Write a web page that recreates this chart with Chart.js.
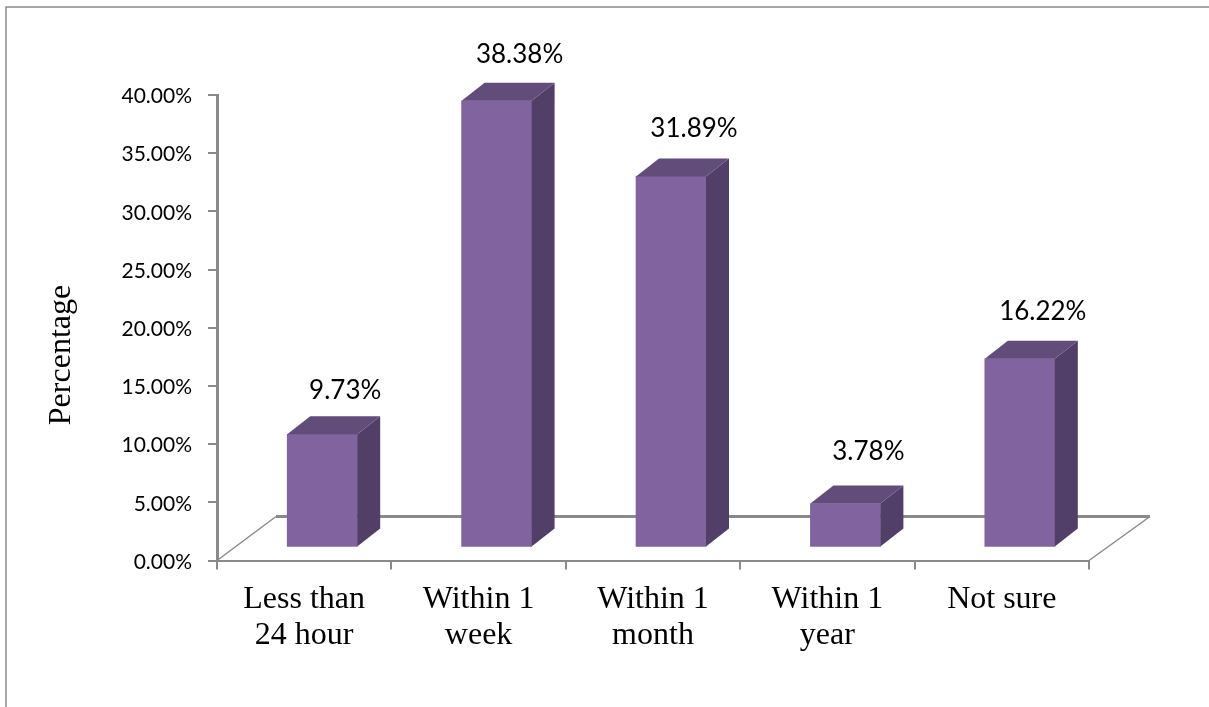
<!DOCTYPE html>
<html>
<head>
<meta charset="utf-8">
<title>Percentage chart</title>
<script src="https://cdn.jsdelivr.net/npm/chart.js@4/dist/chart.umd.min.js"></script>
<style>
html, body { margin: 0; padding: 0; background: #fff; }
canvas { display: block; }
</style>
</head>
<body>
<canvas id="chart" width="1209" height="707"></canvas>
<script>
var categories = [["Less than", "24 hour"], ["Within 1", "week"], ["Within 1", "month"], ["Within 1", "year"], ["Not sure"]];
var percentValues = [9.73, 38.38, 31.89, 3.78, 16.22];
var axisTitle = "Percentage";

var GRAY = '#8a8a8a';
// how far the bars and the floor are pushed back for the fake 3d look
var barShiftX = 18, barShiftY = -13;
var depthX = 23, depthY = -18;
var floorX = 59, floorY = -44;
// small vertical corrections of the value labels
var labelNudge = [3, 1, -1, -5, 0];

var fake3d = {
    id: 'fake3d',
    beforeDraw: function(chart) {
        // frame around the figure, only top and left are visible
        var ctx = chart.ctx;
        ctx.save();
        ctx.strokeStyle = GRAY;
        ctx.lineWidth = 1.5;
        ctx.beginPath();
        ctx.moveTo(6, 707);
        ctx.lineTo(6, 7);
        ctx.lineTo(1209, 7);
        ctx.stroke();
        ctx.restore();
    },
    beforeDatasetsDraw: function(chart) {
        var ctx = chart.ctx, a = chart.chartArea;
        ctx.save();
        ctx.strokeStyle = GRAY;
        ctx.lineWidth = 1.5;
        ctx.beginPath();
        ctx.moveTo(a.left, a.bottom);
        ctx.lineTo(a.left + floorX, a.bottom + floorY);
        ctx.moveTo(a.right, a.bottom);
        ctx.lineTo(a.right + floorX + 2, a.bottom + floorY);
        ctx.stroke();
        ctx.lineWidth = 3;
        ctx.beginPath();
        ctx.moveTo(a.left + floorX, a.bottom + floorY);
        ctx.lineTo(a.right + floorX + 2, a.bottom + floorY);
        ctx.stroke();
        ctx.restore();
    },
    beforeDatasetDraw: function(chart) {
        chart.ctx.save();
        chart.ctx.translate(barShiftX, barShiftY);
    },
    afterDatasetDraw: function(chart, args) {
        var ctx = chart.ctx;
        args.meta.data.forEach(function(bar) {
            var l = bar.x - bar.width / 2, r = bar.x + bar.width / 2;
            ctx.fillStyle = '#523f68';
            ctx.beginPath();
            ctx.moveTo(r, bar.y);
            ctx.lineTo(r + depthX, bar.y + depthY);
            ctx.lineTo(r + depthX, bar.base + depthY);
            ctx.lineTo(r, bar.base);
            ctx.closePath();
            ctx.fill();
            ctx.fillStyle = '#614c7a';
            ctx.beginPath();
            ctx.moveTo(l, bar.y);
            ctx.lineTo(l + depthX, bar.y + depthY);
            ctx.lineTo(r + depthX, bar.y + depthY);
            ctx.lineTo(r, bar.y);
            ctx.closePath();
            ctx.fill();
        });
        ctx.restore();

        // value labels above each bar
        ctx.save();
        ctx.fillStyle = '#000';
        ctx.font = '26px Lato';
        ctx.textAlign = 'center';
        ctx.textBaseline = 'middle';
        args.meta.data.forEach(function(bar, i) {
            ctx.fillText(percentValues[i].toFixed(2) + '%', bar.x + barShiftX + depthX, bar.y + barShiftY + depthY - 29 + labelNudge[i]);
        });
        ctx.restore();
    },
    afterDraw: function(chart) {
        var ctx = chart.ctx;
        ctx.save();
        ctx.fillStyle = '#000';
        ctx.font = '32px "Liberation Serif"';
        ctx.textAlign = 'center';
        ctx.textBaseline = 'middle';
        ctx.translate(62, 355);
        ctx.rotate(-Math.PI / 2);
        ctx.fillText(axisTitle, 0, 0);
        ctx.restore();
    }
};

var ctx = document.getElementById("chart").getContext('2d');
var myChart = new Chart(ctx, {
    type: 'bar',
    data: {
        labels: categories,
        datasets: [{
            label: axisTitle,
            data: percentValues,
            backgroundColor: '#80639f',
            barThickness: 70
        }]
    },
    options: {
        responsive: false,
        animation: false,
        layout: { padding: { top: 95, right: 120, bottom: 0, left: 0 } },
        plugins: {
            legend: { display: false },
            tooltip: { enabled: false }
        },
        scales: {
            x: {
                afterFit: function(scale) { scale.height = 146.5; },
                grid: { drawOnChartArea: false, color: GRAY, tickLength: 9, lineWidth: 2, offset: true },
                border: { color: GRAY, width: 2 },
                ticks: {
                    color: '#000',
                    maxRotation: 0,
                    autoSkip: false,
                    padding: 12,
                    font: { family: '"Liberation Serif"', size: 32, lineHeight: 1.125 }
                }
            },
            y: {
                min: 0,
                max: 40,
                afterFit: function(scale) { scale.width = 217; },
                grid: { drawOnChartArea: false, color: GRAY, tickLength: 9, lineWidth: 2 },
                border: { color: GRAY, width: 3 },
                ticks: {
                    stepSize: 5,
                    color: '#000',
                    padding: 16,
                    labelOffset: 1.5,
                    font: { family: 'Lato', size: 21 },
                    callback: function(v) { return v.toFixed(2) + '%'; }
                }
            }
        }
    },
    plugins: [fake3d]
});
</script>
</body>
</html>
